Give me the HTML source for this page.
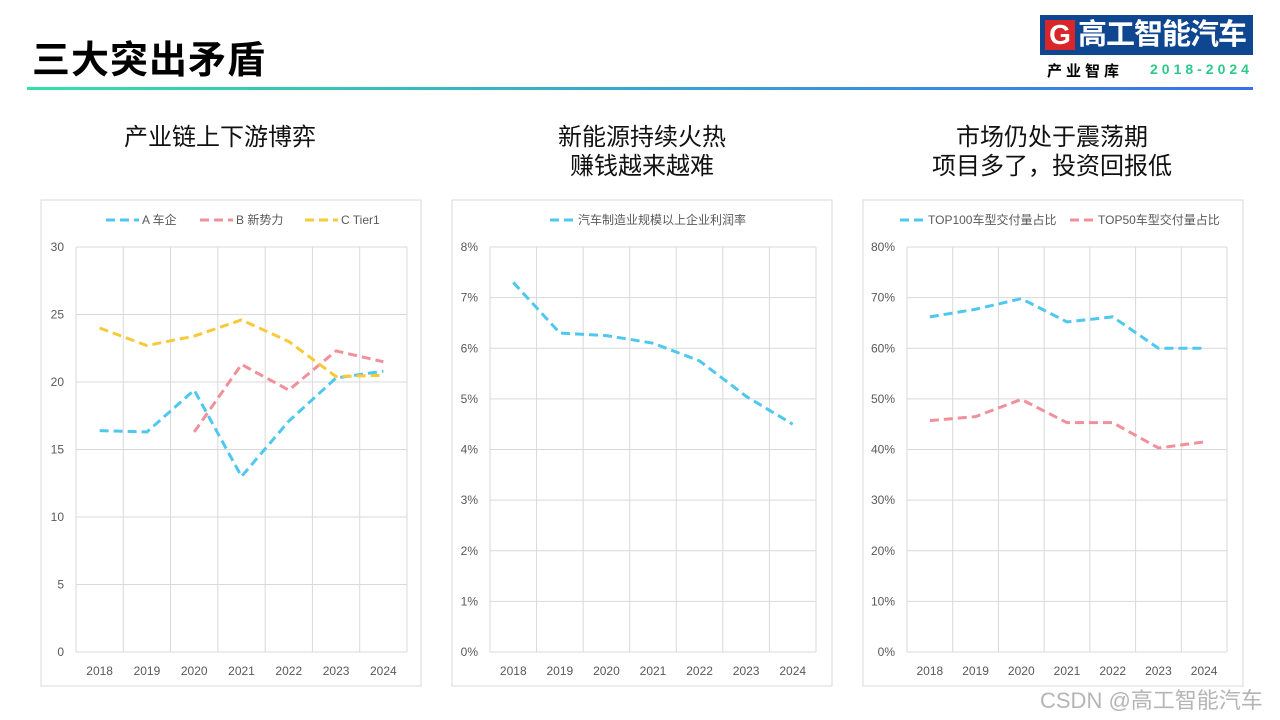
<!DOCTYPE html>
<html><head><meta charset="utf-8"><style>
body{margin:0;width:1280px;height:720px;background:#fff;position:relative;overflow:hidden;font-family:"Liberation Sans","Noto Sans CJK SC",sans-serif}
.abs{position:absolute}
.sub{position:absolute;width:380px;text-align:center;font-size:24px;line-height:29px;color:#111}
</style></head><body>
<div class="abs" style="left:32px;top:29px;font-size:38px;font-weight:bold;color:#000;letter-spacing:1px">三大突出矛盾</div>
<div class="abs" style="left:27px;top:87px;width:1226px;height:3px;background:linear-gradient(90deg,#33e0a8,#3b6ef2)"></div>
<div class="abs" style="left:1040px;top:15px;width:213px;height:40px;background:#0f4690;overflow:hidden">
 <div class="abs" style="left:5px;top:5px;width:30px;height:30px;background:#d8262a;color:#fff;font-weight:bold;font-size:28px;line-height:30px;text-align:center">G</div>
 <div class="abs" style="left:38px;top:2px;color:#fff;font-size:29px;line-height:36px;font-weight:bold;letter-spacing:-1px;white-space:nowrap">高工智能汽车</div>
</div>
<div class="abs" style="left:1047px;top:60px;font-size:15px;font-weight:bold;letter-spacing:4px;color:#000">产业智库</div>
<div class="abs" style="left:1150px;top:61px;font-size:14px;font-weight:bold;letter-spacing:4px;color:#2cc98a">2018-2024</div>
<div class="sub" style="left:30px;top:123px">产业链上下游博弈</div>
<div class="sub" style="left:452px;top:123px">新能源持续火热<br>赚钱越来越难</div>
<div class="sub" style="left:862px;top:123px">市场仍处于震荡期<br>项目多了，投资回报低</div>
<div class="abs" style="left:1040px;top:683px;font-size:22px;color:#b5b5b5;white-space:nowrap">CSDN @高工智能汽车</div>
<svg id="svg" class="abs" style="left:0;top:0" width="1280" height="720"></svg>
<script>
const years=["2018","2019","2020","2021","2022","2023","2024"];
const aCar=[16.4,16.3,19.4,13.0,17.1,20.3,20.8];
const bNew=[null,null,16.3,21.3,19.4,22.3,21.5];
const cTier=[24.0,22.7,23.4,24.6,23.0,20.4,20.5];
const c1Ticks=[0,5,10,15,20,25,30];
const profit=[7.3,6.3,6.25,6.1,5.75,5.05,4.5];
const c2Ticks=[0,1,2,3,4,5,6,7,8];
const top100=[66.2,67.7,69.8,65.2,66.2,60.0,60.0];
const top50=[45.7,46.5,49.9,45.3,45.3,40.3,41.5];
const c3Ticks=[0,10,20,30,40,50,60,70,80];
const NS="http://www.w3.org/2000/svg";
const svg=document.getElementById('svg');
function mk(t,a,p){const e=document.createElementNS(NS,t);for(const k in a)e.setAttribute(k,a[k]);(p||svg).appendChild(e);return e;}
function chart(o){
 const g=mk('g',{});
 
 
 const fr=mk('rect',{x:o.bx,y:200,width:380,height:486,fill:'#fff',stroke:'#d9d9d9'},g);
 
 
 const x0=o.x0,x1=o.x1,yT=247,yB=652,max=o.ticks[o.ticks.length-1];
 const bw=(x1-x0)/years.length;
 const X=i=>x0+bw*(i+0.5), Y=v=>yB-(v/max)*(yB-yT);
 for(let i=0;i<=years.length;i++){const l=mk('line',{x1:x0+bw*i,x2:x0+bw*i,y1:yT,y2:yB,stroke:'#d9d9d9'},g);
  }
 o.ticks.forEach(t=>{const l=mk('line',{x1:x0,x2:x1,y1:Y(t),y2:Y(t),stroke:'#d9d9d9'},g);
  
  const tx=mk('text',{x:x0-12,y:Y(t)+4,'text-anchor':'end','font-size':12,fill:'#595959'},g);tx.textContent=t+o.suf;
  });
 years.forEach((yv,i)=>{const tx=mk('text',{x:X(i),y:675,'text-anchor':'middle','font-size':12,fill:'#595959'},g);tx.textContent=yv;
  });
 o.series.forEach(s=>{let d='';s.v.forEach((v,i)=>{if(v==null)return;d+=(d?'L':'M')+X(i)+' '+Y(v)+' ';});
  const p=mk('path',{d:d,fill:'none',stroke:s.c,'stroke-width':3,'stroke-dasharray':'9 5'},g);
  
  const lg=mk('g',{},g);
  mk('line',{x1:s.lx,x2:s.lx+s.ll,y1:220,y2:220,stroke:s.c,'stroke-width':3,'stroke-dasharray':'9 5'},lg);
  const t=mk('text',{x:s.lx+s.ll+3,y:224,'font-size':12,fill:'#595959'},lg);t.textContent=s.label;});
}
chart({name:'chart-supply-chain',bx:41,x0:76,x1:407,ticks:c1Ticks,suf:'',series:[
 {id:'a-car',v:aCar,c:'#4fc8f0',label:'A 车企',lx:106,ll:33},
 {id:'b-new',v:bNew,c:'#f0909a',label:'B 新势力',lx:200,ll:33},
 {id:'c-tier1',v:cTier,c:'#f8c93a',label:'C Tier1',lx:305,ll:33}]});
chart({name:'chart-profit-rate',bx:452,x0:490,x1:816,ticks:c2Ticks,suf:'%',series:[
 {id:'profit-rate',v:profit,c:'#4fc8f0',label:'汽车制造业规模以上企业利润率',lx:550,ll:25}]});
chart({name:'chart-delivery-share',bx:863,x0:907,x1:1227,ticks:c3Ticks,suf:'%',series:[
 {id:'top100',v:top100,c:'#4fc8f0',label:'TOP100车型交付量占比',lx:900,ll:25},
 {id:'top50',v:top50,c:'#f0909a',label:'TOP50车型交付量占比',lx:1070,ll:25}]});
</script>
</body></html>
